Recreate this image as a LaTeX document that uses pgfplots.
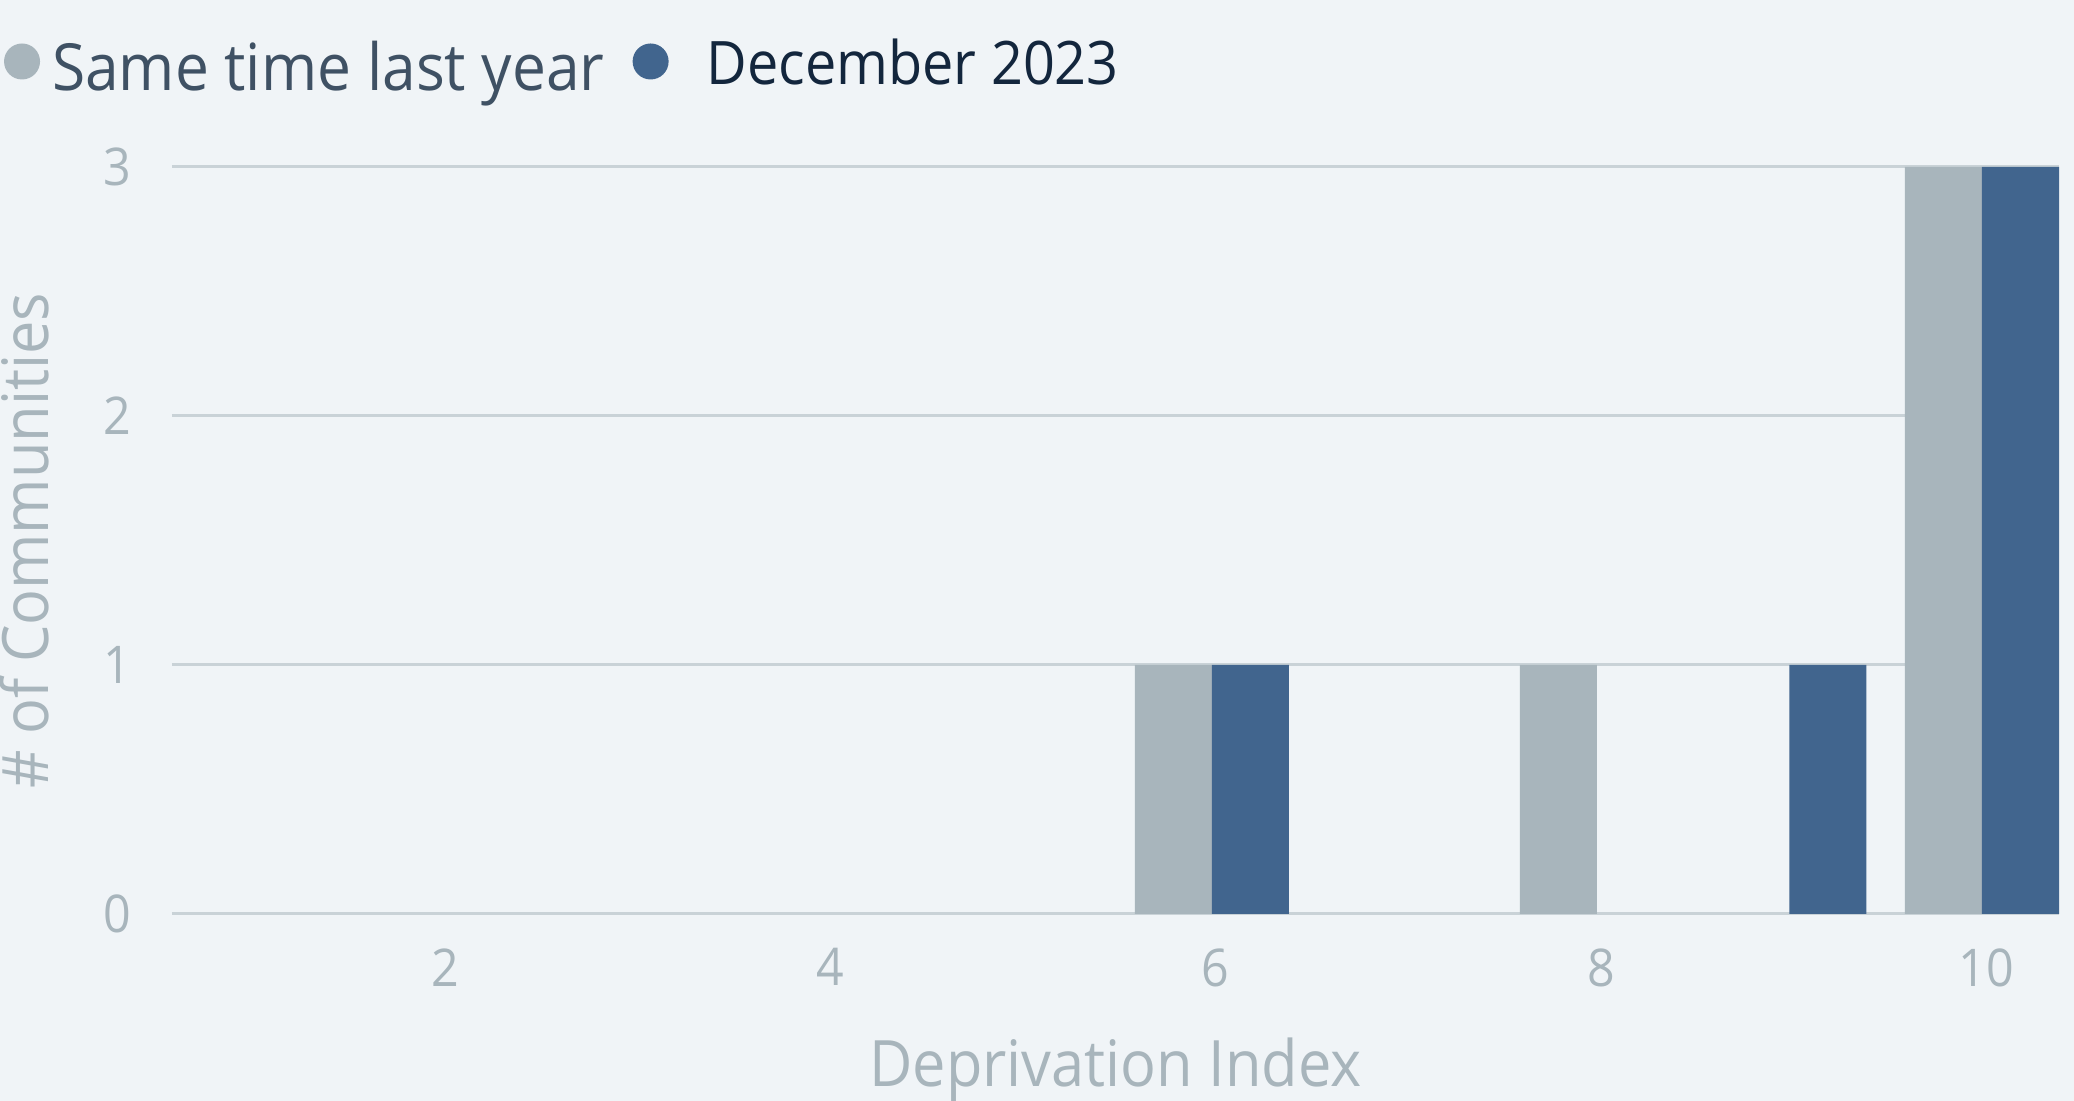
\documentclass[border=0pt]{standalone}
\usepackage{pgfplots}
\pgfplotsset{compat=1.18}
\usepackage{fontspec}
\setmainfont[FakeStretch=0.93]{Open Sans}
\definecolor{bg}{HTML}{F0F4F7}
\definecolor{greyc}{HTML}{A8B5BC}
\definecolor{bluec}{HTML}{41658E}
\definecolor{gridc}{HTML}{C9D2D7}
\definecolor{tickc}{HTML}{A8B5BC}
\definecolor{legone}{HTML}{3F5164}
\definecolor{legtwo}{HTML}{13263D}
\begin{document}
\begin{tikzpicture}
\fill[bg] (0,0) rectangle (1037pt,550.5pt);
\path[use as bounding box] (0,0) rectangle (1037pt,550.5pt);
\begin{axis}[
 at={(86pt,93.5pt)}, anchor=south west,
 scale only axis, width=943.5pt, height=373.5pt,
 xmin=0.6, xmax=10.4, ymin=0, ymax=3,
 xtick={2,4,6,8,10}, ytick={0,1,2,3},
 ymajorgrids, grid style={line width=1.5pt, color=gridc},
 axis line style={draw=none}, major tick length=0pt,
 /pgf/number format/assume math mode=true,
 tick label style={font=\fontsize{26}{26}\selectfont, text=tickc},
 xticklabel style={inner sep=0pt, anchor=north, yshift=-17pt, xshift=2pt},
 yticklabel style={inner sep=0pt, anchor=east, xshift=-20pt},
 xlabel={Deprivation Index}, ylabel={\# of Communities},
 label style={font=\fontsize{32}{32}\selectfont, text=tickc},
 xlabel style={at={(axis description cs:0.5,0)}, anchor=base, yshift=-86.5pt},
 ylabel style={at={(axis description cs:-0.0657,0.5)}, anchor=base},
 ybar, bar width=0.4,
 legend columns=2,
 legend style={draw=none, fill=none, inner sep=0pt, outer sep=0pt,
   at={(axis description cs:-0.089,1.1336)}, anchor=west,
   nodes={inner sep=0pt},
   font=\fontsize{32.5}{32.5}\selectfont,
   /tikz/every odd column/.append style={column sep=6pt},
   /tikz/every even column/.append style={column sep=14pt}},
]
\addplot[fill=greyc, draw=none, bar shift=-0.2,
  legend image code/.code={\fill[greyc] (9pt,2.85pt) circle (9pt);}]
  coordinates {(6,1) (8,1) (10,3)};
\addlegendentry{\textcolor{legone}{Same time last year}}
\addplot[fill=bluec, draw=none, bar shift=0.2,
  legend image code/.code={\fill[bluec] (9pt,2.85pt) circle (9pt);}]
  coordinates {(6,1) (9,1) (10,3)};
\addlegendentry{\hspace{13pt}\raisebox{3.5pt}{\fontsize{30}{30}\selectfont\textcolor{legtwo}{December 2023}}}
\end{axis}
\end{tikzpicture}
\end{document}
